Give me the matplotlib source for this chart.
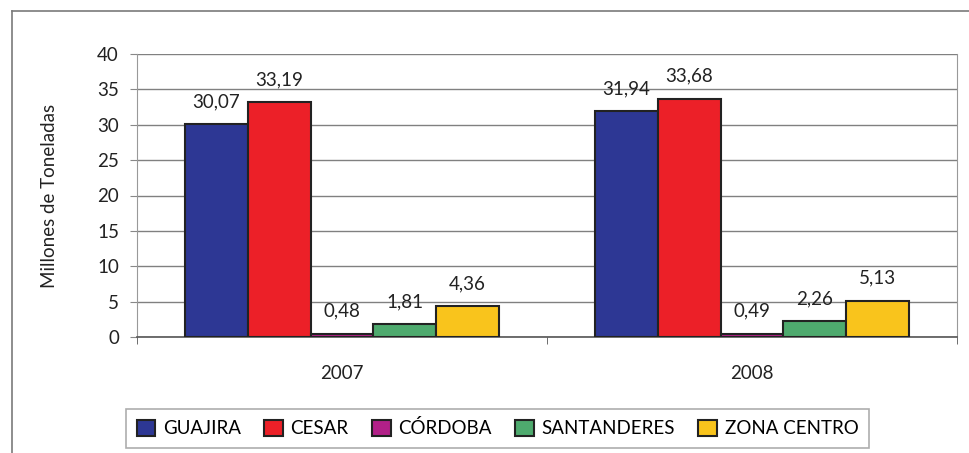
#!/usr/bin/env python3
"""Produccion de carbon por zona, 2007-2008"""

import numpy as np
import matplotlib
matplotlib.use("Agg")
import matplotlib.pyplot as plt
from matplotlib.lines import Line2D

plt.rcParams['font.family'] = ['Lato', 'DejaVu Sans']

# Data
years = ["2007", "2008"]
zones = ["GUAJIRA", "CESAR", "CÓRDOBA", "SANTANDERES", "ZONA CENTRO"]
guajira = [30.07, 31.94]
cesar = [33.19, 33.68]
cordoba = [0.48, 0.49]
santanderes = [1.81, 2.26]
zona_centro = [4.36, 5.13]
colors = ["#2d3794", "#ec2028", "#b22088", "#4eaa6e", "#f9c41c"]

FS = 13.5


def label(v: float) -> str:
    return f"{v:.2f}".replace(".", ",")


fig = plt.figure(figsize=(9.69, 4.53), dpi=100)
ax = fig.add_axes([137 / 969, 1 - 337 / 453, 820 / 969, 283 / 453])

# Outer frame (top and left edges visible)
fig.add_artist(Line2D([12 / 969, 1], [1 - 11 / 453] * 2, color="#7a7a7a", lw=1.2))
fig.add_artist(Line2D([12 / 969] * 2, [0, 1 - 11 / 453], color="#7a7a7a", lw=1.2))

x = np.arange(len(years))
width = 63 / 411
series = [guajira, cesar, cordoba, santanderes, zona_centro]
for i, (vals, name, col) in enumerate(zip(series, zones, colors)):
    pos = x + (i - 2) * width
    bars = ax.bar(pos, vals, width, color=col, edgecolor="#222222",
                  linewidth=1.5, label=name, zorder=3)
    for b, v in zip(bars, vals):
        ax.annotate(label(v), (b.get_x() + b.get_width() / 2, v),
                    xytext=(0, 10), textcoords="offset points",
                    ha="center", va="bottom", fontsize=FS, color="#222222")

ax.set_xlim(-0.5, 1.5)
ax.set_ylim(0, 40)
ax.set_yticks(range(0, 41, 5))
ax.tick_params(axis="y", labelsize=FS, length=5, color="#888888",
               colors="#222222", pad=8)
ax.set_xticks(x)
ax.set_xticklabels(years)
ax.tick_params(axis="x", which="major", length=0, labelsize=FS, pad=20,
               colors="#222222")
ax.set_xticks([-0.5, 0.5, 1.5], minor=True)
ax.tick_params(axis="x", which="minor", length=5, color="#555555")
ax.yaxis.grid(True, color="#808080", lw=1)
ax.set_axisbelow(True)

ax.spines["top"].set_visible(False)
ax.spines["left"].set_color("#999999")
ax.spines["right"].set_color("#999999")
ax.spines["bottom"].set_color("#555555")
ax.spines["bottom"].set_linewidth(1.2)

ax.set_ylabel("Millones de Toneladas", fontsize=FS, color="#222222", labelpad=28)

leg = fig.legend(loc="center", bbox_to_anchor=(497.5 / 969, 1 - 428.5 / 453),
                 ncol=5, fontsize=FS, frameon=True, fancybox=False,
                 handlelength=1.0, handleheight=1.0, handletextpad=0.4,
                 columnspacing=1.25, borderpad=0.55)
leg.get_frame().set_edgecolor("#999999")
leg.get_frame().set_linewidth(1.2)

fig.savefig("out.png", dpi=100)
